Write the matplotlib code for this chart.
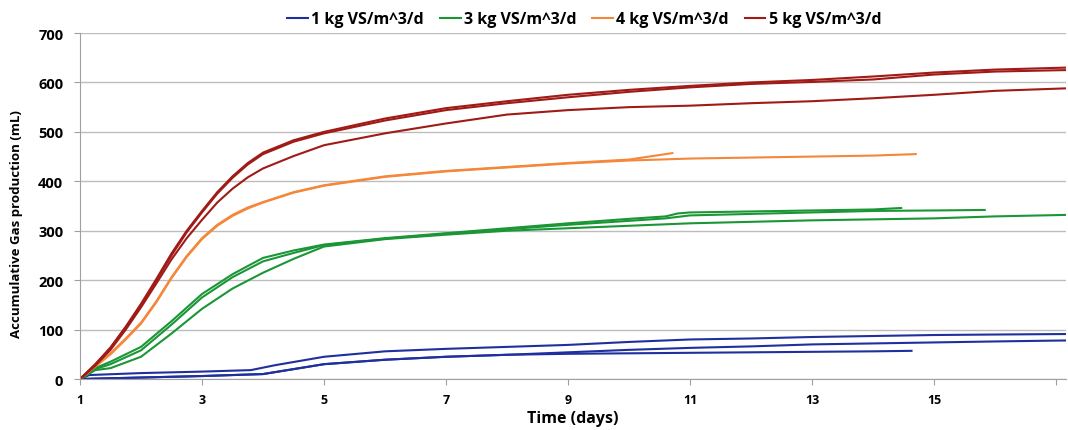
import matplotlib
matplotlib.use('Agg')
import matplotlib.pyplot as plt

# ---------------------------------------------------------------
# Data (day, accumulated mL)
# ---------------------------------------------------------------
DAYS = [1, 1.25, 1.5, 1.75, 2, 2.25, 2.5, 2.75, 3, 3.25, 3.5, 3.75, 4, 4.5, 5,
        6, 7, 8, 9, 10, 11, 12, 13, 14, 15, 16, 17.16]

# 5 kg VS/m^3/d
red_a = [0, 30, 64, 106, 152, 202, 254, 300, 340, 378, 410, 437, 458, 483, 500,
         527, 548, 562, 575, 585, 593, 600, 605, 612, 620, 626, 630]
red_b = [0, 29, 62, 104, 150, 199, 250, 297, 337, 375, 407, 434, 455, 480, 497,
         523, 544, 558, 570, 581, 590, 597, 601, 606, 616, 622, 625]
red_c = [0, 27, 59, 100, 145, 193, 242, 285, 322, 357, 385, 408, 426, 451, 473,
         497, 517, 535, 544, 550, 553, 558, 562, 568, 575, 583, 588]

# 4 kg VS/m^3/d
orange_days_a = [1, 1.25, 1.5, 1.75, 2, 2.25, 2.5, 2.75, 3, 3.25, 3.5, 3.75, 4, 4.5, 5,
                 6, 7, 8, 9, 10, 10.71]
orange_a = [0, 26, 52, 82, 114, 157, 206, 249, 285, 312, 332, 347, 358, 378, 392,
            410, 421, 429, 437, 444, 457]
orange_days_b = [1, 1.25, 1.5, 1.75, 2, 2.25, 2.5, 2.75, 3, 3.25, 3.5, 3.75, 4, 4.5, 5,
                 6, 7, 8, 9, 10, 11, 12, 13, 14, 14.70]
orange_b = [0, 25, 50, 80, 112, 155, 204, 247, 283, 310, 330, 345, 357, 377, 391,
            409, 420, 428, 436, 442, 446, 448, 450, 452, 455]

# 3 kg VS/m^3/d
green_days_a = [1, 1.25, 1.5, 2, 2.5, 3, 3.5, 4, 4.5, 5, 6, 7, 8, 9, 10, 10.6, 10.8,
                11, 12, 13, 14, 14.46]
green_a = [0, 22, 35, 65, 117, 172, 212, 245, 260, 272, 285, 295, 305, 315, 324, 329, 335,
           337, 339, 341, 343, 346]
green_days_b = [1, 1.25, 1.5, 2, 2.5, 3, 3.5, 4, 4.5, 5, 6, 7, 8, 9, 10, 10.6,
                11, 12, 13, 14, 15, 15.83]
green_b = [0, 20, 30, 58, 110, 165, 206, 238, 255, 271, 284, 294, 303, 312, 320, 325,
           331, 334, 337, 340, 341, 342]
green_days_c = [1, 1.25, 1.5, 2, 2.5, 3, 3.5, 4, 4.5, 5, 6, 7, 8, 9, 10, 11, 12, 13, 14,
                15, 16, 17.16]
green_c = [0, 18, 22, 45, 92, 142, 183, 215, 243, 268, 283, 292, 300, 305, 310, 315, 318,
           321, 323, 325, 329, 332]

# 1 kg VS/m^3/d
blue_days_a = [1, 1.15, 2, 3, 3.8, 4.2, 5, 6, 7, 8, 9, 10, 11, 12, 13, 14, 15, 16, 17.16]
blue_a = [0, 8, 12, 15, 18, 28, 45, 56, 61, 65, 69, 75, 80, 82, 85, 87, 89, 90, 91]
blue_days_b = [1, 2, 3, 4, 4.5, 5, 6, 7, 8, 9, 10, 11, 12, 13, 14, 15, 16, 17.16]
blue_b = [0, 3, 6, 10, 20, 30, 39, 45, 49, 54, 59, 63, 66, 70, 72, 74, 76, 78]
blue_days_c = [1, 2, 3, 4, 4.5, 5, 6, 7, 8, 9, 10, 11, 12, 13, 14, 14.63]
blue_c = [0, 3, 6, 10, 20, 30, 39, 45, 49, 51, 52, 53, 54, 55, 56, 57]

LABELS = ['1 kg VS/m^3/d', '3 kg VS/m^3/d', '4 kg VS/m^3/d', '5 kg VS/m^3/d']
XTICKS = [1, 3, 5, 7, 9, 11, 13, 15, 17]
XTICKLABELS = ['1', '3', '5', '7', '9', '11', '13', '15', '']
YTICKS = [0, 100, 200, 300, 400, 500, 600, 700]

BLUE, GREEN, ORANGE, RED = '#1f2f9e', '#1a9636', '#f4873a', '#a01a16'

plt.rcParams['font.family'] = ['Open Sans', 'DejaVu Sans']
plt.rcParams['font.weight'] = 'bold'

fig = plt.figure(figsize=(10.68, 4.31), dpi=100)
ax = fig.add_axes([0.0749, 0.1183, 0.9231, 0.8028])

lw = 1.5
ax.plot(blue_days_a, blue_a, color=BLUE, lw=lw, label=LABELS[0])
ax.plot(blue_days_b, blue_b, color=BLUE, lw=lw)
ax.plot(blue_days_c, blue_c, color=BLUE, lw=lw)
ax.plot(green_days_a, green_a, color=GREEN, lw=lw, label=LABELS[1])
ax.plot(green_days_b, green_b, color=GREEN, lw=lw)
ax.plot(green_days_c, green_c, color=GREEN, lw=lw)
ax.plot(orange_days_a, orange_a, color=ORANGE, lw=lw, label=LABELS[2])
ax.plot(orange_days_b, orange_b, color=ORANGE, lw=lw)
ax.plot(DAYS, red_a, color=RED, lw=lw, label=LABELS[3])
ax.plot(DAYS, red_b, color=RED, lw=lw)
ax.plot(DAYS, red_c, color=RED, lw=lw)

ax.set_xlim(1, 17.16)
ax.set_ylim(0, 700)
ax.set_xticks(XTICKS)
ax.set_xticklabels(XTICKLABELS)
ax.set_yticks(YTICKS)
ax.tick_params(axis='x', length=4, color='#a0a0a0', labelsize=9, pad=6)
ax.tick_params(axis='y', length=4, color='#a0a0a0', labelsize=10.5, pad=8)
ax.grid(axis='y', color='#bdbdbd', lw=1)
ax.set_axisbelow(True)
for s in ['top', 'right']:
    ax.spines[s].set_visible(False)
for s in ['left', 'bottom']:
    ax.spines[s].set_color('#a0a0a0')

ax.set_xlabel('Time (days)', fontsize=11.5, fontweight='bold', labelpad=3)
ax.set_ylabel('Accumulative Gas production (mL)', fontsize=9.5, fontweight='bold')
ax.yaxis.set_label_coords(-0.058, 0.45)

fig.legend(loc='upper center', bbox_to_anchor=(0.547, 1.005), ncol=4, frameon=False,
           fontsize=11.5, handlelength=1.3, handletextpad=0.2, columnspacing=1.0)

plt.savefig('out.png', dpi=100)
